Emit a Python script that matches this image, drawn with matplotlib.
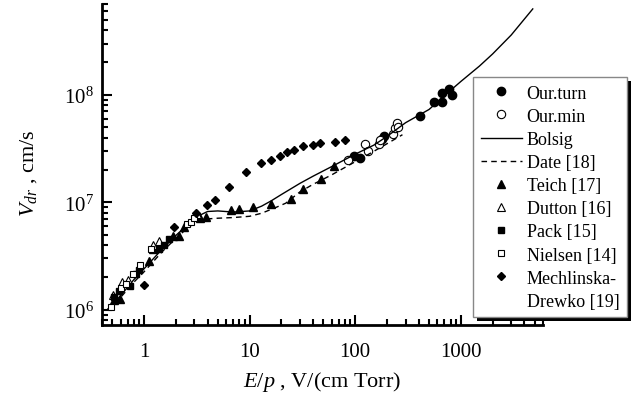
import matplotlib
matplotlib.use("Agg")
import matplotlib.pyplot as plt
from matplotlib.lines import Line2D
from matplotlib.patches import Rectangle

# ---------------- data ----------------
bolsig_x = [0.45, 0.6, 0.8, 1.0, 1.5, 2.0, 2.5, 3.0, 3.5, 4.0, 5.0, 7.0, 10, 13, 16, 20, 30, 40, 60,
            100, 150, 200, 300, 500, 800, 1000, 1500, 2000, 3000, 4800]
bolsig_y = [1.0e6, 1.35e6, 1.9e6, 2.4e6, 3.7e6, 4.9e6, 6.0e6, 7.0e6, 7.7e6, 8.2e6, 8.3e6, 8.1e6, 8.3e6,
            9.2e6, 1.03e7, 1.18e7, 1.5e7, 1.75e7, 2.15e7, 2.8e7, 3.4e7, 4.1e7, 5.5e7, 7.3e7, 1.1e8,
            1.33e8, 1.85e8, 2.4e8, 3.6e8, 6.3e8]

date_x = [0.45, 0.6, 0.8, 1.0, 1.5, 2.0, 2.5, 3.0, 4.0, 5.0, 7.0, 10, 13, 18, 22, 30, 40, 60, 90, 130, 180, 280]
date_y = [1.0e6, 1.3e6, 1.8e6, 2.25e6, 3.5e6, 4.6e6, 5.6e6, 6.4e6, 7.0e6, 7.1e6, 7.2e6, 7.4e6, 7.9e6,
          9.0e6, 9.8e6, 1.25e7, 1.47e7, 1.8e7, 2.25e7, 2.75e7, 3.3e7, 4.25e7]

turn_x = [98, 110, 179, 189, 410, 560, 657, 666, 776, 822]
turn_y = [2.72e7, 2.59e7, 3.89e7, 4.17e7, 6.3e7, 8.56e7, 8.56e7, 1.05e8, 1.14e8, 9.86e7]

min_x = [86, 124, 133, 168, 172, 227, 240, 247, 256]
min_y = [2.45e7, 3.5e7, 2.98e7, 3.5e7, 3.83e7, 4.33e7, 4.9e7, 5.47e7, 5.02e7]

teich_x = [0.52, 0.59, 1.12, 1.21, 1.87, 2.15, 2.37, 3.4, 3.85, 6.7, 7.9, 10.8, 16.0, 24.4, 32.0, 47.8, 62.4]
teich_y = [1.22e6, 1.26e6, 2.86e6, 3.67e6, 4.84e6, 4.88e6, 5.83e6, 7.06e6, 7.22e6, 8.49e6, 8.61e6,
           9.12e6, 9.58e6, 1.08e7, 1.33e7, 1.63e7, 2.16e7]

dutton_x = [0.51, 0.62, 0.70, 1.21, 1.39, 3.2]
dutton_y = [1.38e6, 1.8e6, 1.9e6, 4.0e6, 4.4e6, 7.8e6]

pack_x = [0.52, 0.58, 0.74, 0.84, 0.90, 1.40, 1.55, 1.73]
pack_y = [1.3e6, 1.5e6, 1.66e6, 2.15e6, 2.35e6, 3.7e6, 3.96e6, 4.5e6]

nielsen_x = [0.49, 0.61, 0.68, 0.78, 0.92, 1.16, 2.55, 2.78, 3.0]
nielsen_y = [1.05e6, 1.6e6, 1.75e6, 2.15e6, 2.6e6, 3.7e6, 6.3e6, 6.5e6, 7.1e6]

mech_x = [0.99, 1.91, 3.14, 3.99, 4.71, 6.38, 9.3, 12.9, 16.0, 19.3, 22.7, 26.6, 32.1, 39.9, 46.8, 64.7, 80.5]
mech_y = [1.68e6, 5.87e6, 7.86e6, 9.38e6, 1.05e7, 1.39e7, 1.91e7, 2.30e7, 2.47e7, 2.67e7, 2.92e7,
          3.05e7, 3.37e7, 3.44e7, 3.54e7, 3.67e7, 3.77e7]

labels = ["Our.turn", "Our.min", "Bolsig", "Date [18]", "Teich [17]", "Dutton [16]",
          "Pack [15]", "Nielsen [14]", "Mechlinska-", "Drewko [19]"]

# ---------------- style ----------------
plt.rcParams['font.family'] = ['Liberation Serif', 'DejaVu Serif']
plt.rcParams['mathtext.fontset'] = 'custom'
plt.rcParams['mathtext.rm'] = 'Liberation Serif'
plt.rcParams['mathtext.it'] = 'Liberation Serif:italic'
plt.rcParams['mathtext.bf'] = 'Liberation Serif:bold'

fig = plt.figure(figsize=(6.37, 4.02), dpi=100)
ax = fig.add_axes([102/637, 1 - 326/402, (543 - 102)/637, (326 - 5)/402])

ax.set_xscale('log')
ax.set_yscale('log')
ax.set_xlim(0.4, 6000)
ax.set_ylim(7.2e5, 7.0e8)

k = dict(linestyle='none', color='black')
h_turn, = ax.plot(turn_x, turn_y, marker='o', ms=6, mfc='black', mec='black', **k)
h_min, = ax.plot(min_x, min_y, marker='o', ms=6, mfc='white', mec='black', mew=0.8, **k)
h_bol, = ax.plot(bolsig_x, bolsig_y, '-', color='black', lw=1.0)
h_date, = ax.plot(date_x, date_y, color='black', lw=1.0, dashes=(4, 3))
h_teich, = ax.plot(teich_x, teich_y, marker='^', ms=6, mfc='black', mec='black', **k)
h_dut, = ax.plot(dutton_x, dutton_y, marker='^', ms=5.5, mfc='white', mec='black', mew=0.8, **k)
h_pack, = ax.plot(pack_x, pack_y, marker='s', ms=4.5, mfc='black', mec='black', **k)
h_niel, = ax.plot(nielsen_x, nielsen_y, marker='s', ms=4.5, mfc='white', mec='black', mew=0.8, **k)
h_mech, = ax.plot(mech_x, mech_y, marker='D', ms=4.5, mfc='black', mec='black', **k)
h_blank = Line2D([], [], linestyle='none', marker='none')

for s in ['top', 'right']:
    ax.spines[s].set_visible(False)
for s in ['left', 'bottom']:
    ax.spines[s].set_linewidth(2.0)

ax.tick_params(which='both', direction='in', width=1.5, labelsize=15, color='black')
ax.tick_params(which='major', length=7)
ax.tick_params(which='minor', length=4.5)
ax.tick_params(axis='x', pad=12)
ax.tick_params(axis='y', pad=6)
ax.set_xticks([1, 10, 100, 1000])
ax.set_xticklabels(['1', '10', '100', '1000'])

ax.set_xlabel(r'$E$/$p$ , V/(cm Torr)', fontsize=16, labelpad=6)
ax.set_ylabel(r'$V_{dr}$ , cm/s', fontsize=16, labelpad=18, y=0.475)

handles = [h_turn, h_min, h_bol, h_date, h_teich, h_dut, h_pack, h_niel, h_mech, h_blank]
leg = ax.legend(handles, labels, loc='upper left', bbox_to_anchor=(473/637, 1 - 78/402),
                bbox_transform=fig.transFigure, fontsize=13, numpoints=1, frameon=True,
                fancybox=False, edgecolor='#888888', framealpha=1, handlelength=2.3,
                handletextpad=0.25, labelspacing=0.34, borderpad=0.42, borderaxespad=0)
leg.get_frame().set_linewidth(1.0)

fig.canvas.draw()
bb = leg.get_window_extent()
shadow = Rectangle((bb.x0 + 4, bb.y0 - 4), bb.width, bb.height, transform=None,
                   facecolor='black', edgecolor='none', zorder=4.9, clip_on=False)
ax.add_artist(shadow)

fig.savefig('out.png', dpi=100)
